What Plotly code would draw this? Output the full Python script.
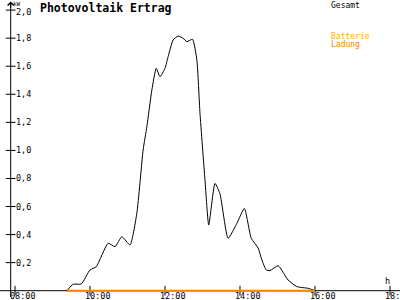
import plotly.graph_objects as go

# ---- data ----
times = ["09:23", "09:33", "09:46", "10:00", "10:10", "10:29", "10:40", "10:51", "11:04",
         "11:15", "11:25", "11:31", "11:39", "11:46", "11:52", "12:00", "12:05", "12:13",
         "12:21", "12:29", "12:35", "12:44", "12:51", "12:56", "13:04", "13:10", "13:20",
         "13:28", "13:41", "13:55", "14:07", "14:18", "14:29", "14:35", "14:42", "14:48",
         "15:01", "15:17", "15:31", "15:49", "16:00"]
gesamt = [0.0, 0.046, 0.048, 0.148, 0.171, 0.338, 0.314, 0.385, 0.326,
          0.554, 1.003, 1.169, 1.431, 1.585, 1.525, 1.585, 1.668, 1.787,
          1.815, 1.799, 1.775, 1.792, 1.644, 1.264, 0.79, 0.468, 0.765,
          0.69, 0.374, 0.48, 0.587, 0.374, 0.304, 0.219, 0.148, 0.143,
          0.178, 0.076, 0.029, 0.017, 0.0]
ladung = [0.0] * len(times)

y_ticks = [0.2, 0.4, 0.6, 0.8, 1.0, 1.2, 1.4, 1.6, 1.8, 2.0]
y_tick_labels = ["0,2", "0,4", "0,6", "0,8", "1,0", "1,2", "1,4", "1,6", "1,8", "2,0"]
x_ticks = [8, 10, 12, 14, 16, 18]
x_tick_labels = ["08:00", "10:00", "12:00", "14:00", "16:00", "18:00"]

title = "Photovoltaik Ertrag"
legend_gesamt = "Gesamt"
legend_batt = "Batterie"
legend_ladung = "Ladung"


def to_h(t):
    hh, mm = t.split(":")
    return int(hh) + int(mm) / 60.0


hours = [to_h(t) for t in times]

X_RANGE = [7.6, 18.267]
Y_RANGE = [-0.0663, 2.072]
Y_AXIS_X = 7.885

MONO = "DejaVu Sans Mono"
ORANGE = "#FF8000"
YELLOW = "#FFB000"

fig = go.Figure()

# axis tick marks (crossing the axes)
fig.add_trace(go.Scatter(x=[Y_AXIS_X] * len(y_ticks), y=y_ticks, mode="markers",
                         marker=dict(symbol="line-ew", size=7, line=dict(width=1, color="black")),
                         hoverinfo="skip", showlegend=False))
fig.add_trace(go.Scatter(x=x_ticks, y=[0] * len(x_ticks), mode="markers",
                         marker=dict(symbol="line-ns", size=7, line=dict(width=1, color="black")),
                         hoverinfo="skip", showlegend=False))

fig.add_trace(go.Scatter(x=hours, y=gesamt, mode="lines",
                         line=dict(color="black", width=1, shape="spline", smoothing=0.5),
                         name=legend_gesamt, showlegend=False))
fig.add_trace(go.Scatter(x=hours, y=ladung, mode="lines",
                         line=dict(color=ORANGE, width=2),
                         name=legend_ladung, showlegend=False))

shapes = [
    dict(type="line", xref="paper", yref="y", x0=0, x1=1, y0=0, y1=0,
         line=dict(color="black", width=1), layer="below"),
    dict(type="line", xref="x", yref="paper", x0=Y_AXIS_X, x1=Y_AXIS_X, y0=0.01, y1=0.99,
         line=dict(color="black", width=1), layer="below"),
]

annotations = []
# arrow head at top of y axis
annotations.append(dict(x=Y_AXIS_X, y=1 - 1.5 / 300, xref="x", yref="paper", text="",
                        showarrow=True, ax=0, ay=8, arrowhead=4, arrowsize=1.2,
                        arrowwidth=1, arrowcolor="black"))
for v, lab in zip(y_ticks, y_tick_labels):
    annotations.append(dict(x=Y_AXIS_X, y=v, xref="x", yref="y", text=lab,
                            showarrow=False, xanchor="left", yanchor="middle",
                            xshift=3, yshift=(-1.5 if lab == "2,0" else 0),
                            font=dict(family=MONO, size=8.5, color="black")))
for h, lab in zip(x_ticks, x_tick_labels):
    annotations.append(dict(x=h, y=0, xref="x", yref="y", text=lab, showarrow=False,
                            xanchor="center", yanchor="middle", xshift=8, yshift=-5.5,
                            font=dict(family=MONO, size=8.5, color="black")))
annotations.append(dict(x=Y_AXIS_X, y=1, xref="x", yref="paper", text="kW",
                        showarrow=False, xanchor="left", yanchor="top", xshift=1, yshift=1,
                        borderpad=0,
                        font=dict(family=MONO, size=6, color="black")))
annotations.append(dict(x=387.5 / 400, y=1 - 281 / 300, xref="paper", yref="paper", text="h",
                        showarrow=False, xanchor="center", yanchor="middle",
                        font=dict(family=MONO, size=8.5, color="black")))
annotations.append(dict(x=38 / 400, y=1 - 8 / 300, xref="paper", yref="paper", text="<b>" + title + "</b>",
                        showarrow=False, xanchor="left", yanchor="middle",
                        font=dict(family=MONO, size=11.5, color="black")))
annotations.append(dict(x=329 / 400, y=1 - 5 / 300, xref="paper", yref="paper", text=legend_gesamt,
                        showarrow=False, xanchor="left", yanchor="middle",
                        font=dict(family=MONO, size=8, color="black")))
annotations.append(dict(x=329 / 400, y=1 - 36 / 300, xref="paper", yref="paper", text=legend_batt,
                        showarrow=False, xanchor="left", yanchor="middle",
                        font=dict(family=MONO, size=8, color=YELLOW)))
annotations.append(dict(x=329 / 400, y=1 - 44.5 / 300, xref="paper", yref="paper", text=legend_ladung,
                        showarrow=False, xanchor="left", yanchor="middle",
                        font=dict(family=MONO, size=8, color=ORANGE)))

fig.update_layout(
    width=400, height=300,
    margin=dict(l=0, r=0, t=0, b=0, pad=0),
    paper_bgcolor="white", plot_bgcolor="white",
    xaxis=dict(range=X_RANGE, visible=False, fixedrange=True),
    yaxis=dict(range=Y_RANGE, visible=False, fixedrange=True),
    shapes=shapes,
    annotations=annotations,
    showlegend=False,
)

fig.write_html("out.html")
